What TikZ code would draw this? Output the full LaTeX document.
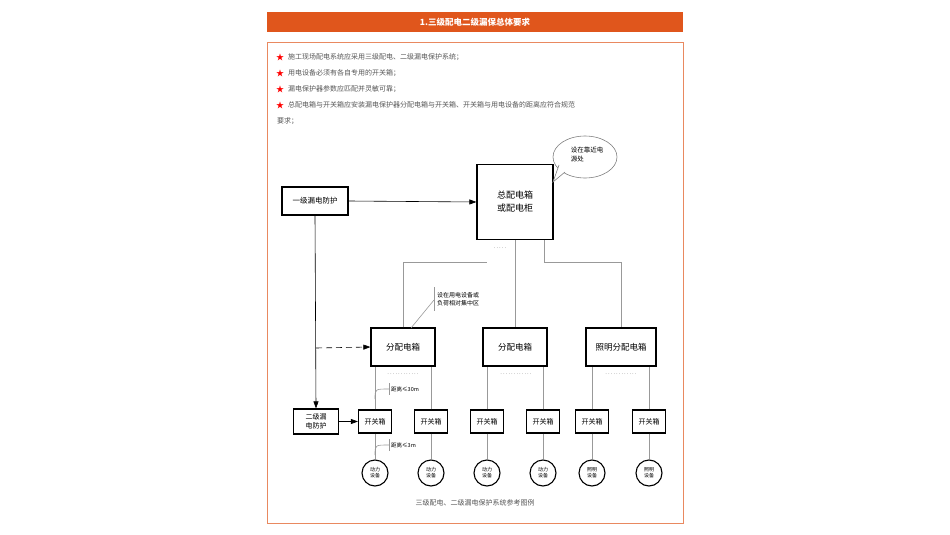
\documentclass[tikz,border=0pt]{standalone}
\usepackage{fontspec}
\setmainfont{Noto Sans CJK SC}
\usetikzlibrary{arrows.meta,shapes.geometric}
\definecolor{org}{HTML}{E0561C}
\definecolor{txt}{HTML}{555555}
\tikzset{
  bx/.style={draw=black,line width=1.2pt,fill=white,inner sep=0pt,font=\fontsize{7.5}{10}\selectfont,align=center},
  ln/.style={draw=gray!80,line width=0.6pt},
  arr/.style={draw=black,line width=0.6pt,-{Triangle[length=7pt,width=5pt]}},
  dev/.style={draw=black,line width=1.1pt,circle,minimum size=26pt,inner sep=0pt,align=center,font=\fontsize{5}{6}\selectfont},
  bul/.style={anchor=west,text=txt,font=\fontsize{7}{9}\selectfont,inner sep=0pt},
  dots/.style={font=\fontsize{6}{6}\selectfont,text=gray,inner sep=0pt},
  note/.style={font=\fontsize{6}{8}\selectfont,align=left,anchor=west,inner sep=0pt}
}
\begin{document}
\begin{tikzpicture}[x=1pt,y=-1pt]
\useasboundingbox (0,0) rectangle (950,535);
\fill[org] (267,12) rectangle (683,32);
\node[text=white,font=\bfseries\fontsize{8.5}{10}\selectfont] (hd) at (475,22) {1.三级配电二级漏保总体要求};
\draw[org!70,line width=0.6pt] (267,42) rectangle (683,523);
\foreach \y/\t in {57/施工现场配电系统应采用三级配电、二级漏电保护系统；,73/用电设备必须有各自专用的开关箱；,89/漏电保护器参数应匹配并灵敏可靠；,105/总配电箱与开关箱应安装漏电保护器分配电箱与开关箱、开关箱与用电设备的距离应符合规范}{
  \node[text=red,font=\fontsize{8}{8}\selectfont,inner sep=0pt] at (280,\y) {★};
  \node[bul] at (288,\y) {\t};}
\node[bul] (b5) at (277,121) {要求；};
% main boxes
\node[bx,minimum width=66pt,minimum height=28pt] (l1) at (315,201) {一级漏电防护};
\node[bx,minimum width=76pt,minimum height=75pt,font=\fontsize{9}{13}\selectfont] (zp) at (515,202) {总配电箱\\或配电柜};
\node[ellipse,draw=gray,line width=0.6pt,fill=white,minimum width=64pt,minimum height=42pt,inner sep=0pt] (cl) at (585,157) {};
\draw[gray,line width=0.6pt,fill=white] (559,165) -- (553,182) -- (565,172);
\node[font=\fontsize{6.5}{9}\selectfont,align=left] (clt) at (587,155) {设在靠近电\\源处};
\draw[arr] (l1.east) -- (zp.west);
\node[dots] (zd) at (500,248) {.\,.\,.\,.\,.};
% distribution
\node[bx,minimum width=64pt,minimum height=38pt,font=\fontsize{8.5}{10}\selectfont] (f1) at (403,347) {分配电箱};
\node[bx,minimum width=64pt,minimum height=38pt,font=\fontsize{8.5}{10}\selectfont] (f2) at (515,347) {分配电箱};
\node[bx,minimum width=70pt,minimum height=38pt,font=\fontsize{8.5}{10}\selectfont] (f3) at (621,347) {照明分配电箱};
\coordinate (c1) at (487,262); \coordinate (c2) at (544,262); \coordinate (c3) at (544,240);
\draw[ln] (f1.north) |- (c1);
\draw[ln] (zp.south) -- (f2.north);
\draw[ln] (c3) -- (c2) -| (f3.north);
\node[note] (nt) at (437,299) {设在用电设备或\\负荷相对集中区};
\draw[ln] (434,287) -- (434,311);
\draw[ln] (434,300) -- (411,328);
\draw[arr,dashed,dash pattern=on 6pt off 4pt] (316,348) -- (f1.west);
% switch boxes
\foreach \n/\x in {1/375,2/431,3/487,4/543,5/592,6/649}{
  \node[bx,minimum width=33pt,minimum height=23pt,font=\fontsize{7}{9}\selectfont] (k\n) at (\x,421.5) {开关箱};}
\foreach \n/\x/\t in {1/375/动力,2/431/动力,3/487/动力,4/543/动力,5/592/照明,6/649/照明}{
  \node[dev] (d\n) at (\x,473) {\t\\设备};
  \draw[ln] (k\n.south) -- (d\n.north);}
\foreach \f/\a/\b in {f1/1/2,f2/3/4,f3/5/6}{
  \draw[ln] (k\a.north) -- (k\a.north |- \f.south);
  \draw[ln] (k\b.north) -- (k\b.north |- \f.south);}
\node[dots] at (403,374) {.\,.\,.\,.\,.\,.\,.\,.\,.\,.\,.\,.};
\node[dots] at (516,374) {.\,.\,.\,.\,.\,.\,.\,.\,.\,.\,.\,.};
\node[dots] at (621,374) {.\,.\,.\,.\,.\,.\,.\,.\,.\,.\,.\,.};
\node[bx,minimum width=45pt,minimum height=25pt,font=\fontsize{7}{9}\selectfont] (l2) at (316,421.5) {二级漏\\电防护};
\draw[arr] (l1.south) -- (l2.north);
\draw[arr] (l2.east) -- (k1.west);
% distance notes
\foreach \y/\t in {389/距离≤30m,445/距离≤3m}{
  \draw[ln] (389,\y-6) -- (389,\y+6);
  \draw[ln] (375,\y+10) .. controls (375,\y) .. (389,\y);
  \node[note,font=\fontsize{5.5}{6}\selectfont] at (391,\y) {\t};}
\node[text=txt,font=\fontsize{7}{9}\selectfont] (cap) at (475,503) {三级配电、二级漏电保护系统参考图例};
\end{tikzpicture}
\end{document}
